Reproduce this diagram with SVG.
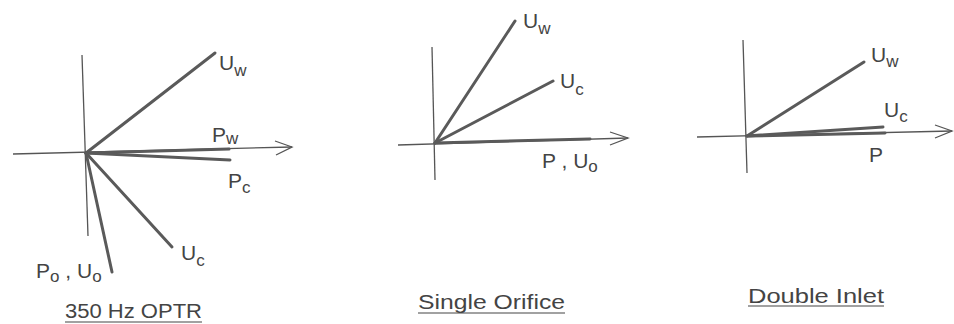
<svg xmlns="http://www.w3.org/2000/svg" width="954" height="324" viewBox="0 0 954 324">
<style>
.axis{stroke:#555;stroke-width:1.3;fill:none}
.vec{stroke:#5a5a5a;stroke-width:3;stroke-linecap:round;fill:none}
.lbl{font-family:"Liberation Sans","DejaVu Sans",sans-serif;font-size:21px;fill:#444}
.sub{font-size:17px}
.ttl{font-family:"Liberation Sans","DejaVu Sans",sans-serif;font-size:20px;fill:#444}
.ul{stroke:#444;stroke-width:1.2}
</style>
<rect width="954" height="324" fill="#fff"/>
<g id="panel-optr">
  <g id="axes-1">
    <line class="axis" x1="82" y1="55" x2="88" y2="236"/>
    <line class="axis" x1="13" y1="154" x2="292" y2="147"/>
    <polyline class="axis" points="275,141 292,147 276,155"/>
  </g>
  <g id="vectors-1">
    <line class="vec" x1="86" y1="153" x2="215" y2="53"/>
    <line class="vec" x1="86" y1="153" x2="229" y2="149"/>
    <line class="vec" x1="86" y1="153" x2="230" y2="160"/>
    <line class="vec" x1="86" y1="153" x2="172" y2="247"/>
    <line class="vec" x1="86" y1="153" x2="112" y2="272"/>
  </g>
  <text class="lbl" x="219" y="70">U<tspan class="sub" dy="6">w</tspan></text>
  <text class="lbl" x="212" y="142">P<tspan class="sub" dy="2">w</tspan></text>
  <text class="lbl" x="228" y="188">P<tspan class="sub" dy="5">c</tspan></text>
  <text class="lbl" x="181" y="260">U<tspan class="sub" dy="6">c</tspan></text>
  <text class="lbl" x="36" y="278">P<tspan class="sub" dy="4">o</tspan><tspan dy="-4"> , U</tspan><tspan class="sub" dy="4">o</tspan></text>
  <text class="ttl" x="65" y="318" textLength="137" lengthAdjust="spacingAndGlyphs">350 Hz OPTR</text>
  <line class="ul" x1="65" y1="322" x2="202" y2="322"/>
</g>
<g id="panel-single">
  <g id="axes-2">
    <line class="axis" x1="432" y1="47" x2="435" y2="180"/>
    <line class="axis" x1="398" y1="145" x2="628" y2="138"/>
    <polyline class="axis" points="610,132 628,138 610,145"/>
  </g>
  <g id="vectors-2">
    <line class="vec" x1="435" y1="143" x2="515" y2="21"/>
    <line class="vec" x1="435" y1="143" x2="553" y2="81"/>
    <line class="vec" x1="435" y1="143" x2="590" y2="139"/>
  </g>
  <text class="lbl" x="523" y="28">U<tspan class="sub" dy="6">w</tspan></text>
  <text class="lbl" x="560" y="88">U<tspan class="sub" dy="7">c</tspan></text>
  <text class="lbl" x="542" y="168">P , U<tspan class="sub" dy="4">o</tspan></text>
  <text class="ttl" x="418" y="309" textLength="147" lengthAdjust="spacingAndGlyphs">Single Orifice</text>
  <line class="ul" x1="418" y1="313" x2="565" y2="313"/>
</g>
<g id="panel-double">
  <g id="axes-3">
    <line class="axis" x1="743" y1="40" x2="747" y2="173"/>
    <line class="axis" x1="697" y1="137" x2="952" y2="131"/>
    <polyline class="axis" points="935,125 952,131 935,138"/>
  </g>
  <g id="vectors-3">
    <line class="vec" x1="747" y1="136" x2="864" y2="62"/>
    <line class="vec" x1="747" y1="136" x2="883" y2="127"/>
    <line class="vec" x1="747" y1="136" x2="885" y2="133"/>
  </g>
  <text class="lbl" x="871" y="62">U<tspan class="sub" dy="5">w</tspan></text>
  <text class="lbl" x="884" y="117">U<tspan class="sub" dy="5">c</tspan></text>
  <text class="lbl" x="869" y="162">P</text>
  <text class="ttl" x="748" y="303" textLength="136" lengthAdjust="spacingAndGlyphs">Double Inlet</text>
  <line class="ul" x1="748" y1="306" x2="884" y2="306"/>
</g>
</svg>
